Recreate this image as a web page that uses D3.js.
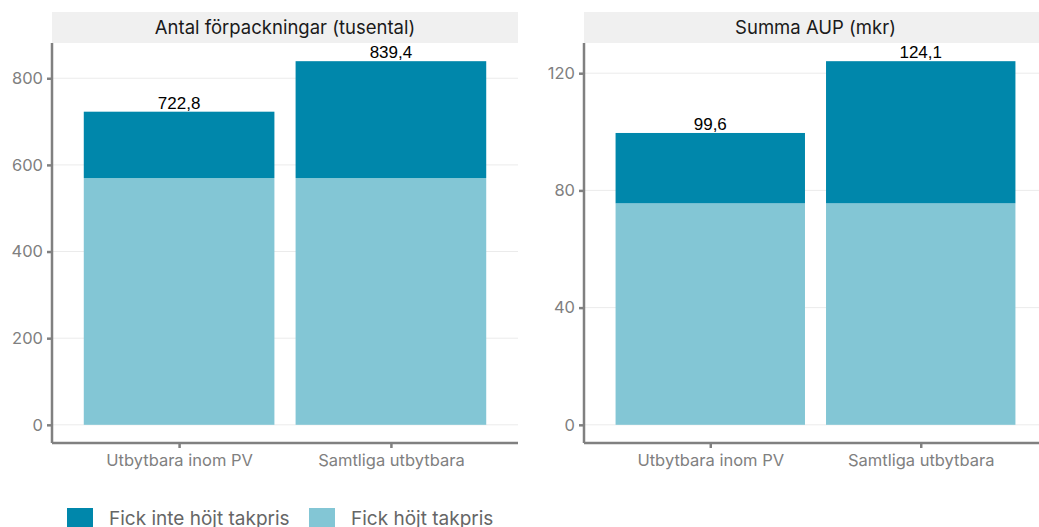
<!DOCTYPE html>
<html>
<head>
<meta charset="utf-8">
<script src="https://cdnjs.cloudflare.com/ajax/libs/d3/7.8.5/d3.min.js"></script>
<style>
  body { margin: 0; background: #fff; }
  svg { display: block; }
</style>
</head>
<body>
<script>
// data
var categories = ["Utbytbara inom PV", "Samtliga utbytbara"];
var panelTitles = ["Antal förpackningar (tusental)", "Summa AUP (mkr)"];
var raisedPacks = [569.7, 569.7];       // Fick höjt takpris
var totalPacks = [722.8, 839.4];        // stack total (top of Fick inte höjt takpris)
var raisedAup = [75.6, 75.6];
var totalAup = [99.6, 124.1];
var ticksPacks = [0, 200, 400, 600, 800];
var ticksAup = [0, 40, 80, 120];
var seriesNames = ["Fick inte höjt takpris", "Fick höjt takpris"];
var seriesColors = ["#0087ab", "#83c6d5"];

var W = 1039, H = 527;
var svg = d3.select("body").append("svg").attr("width", W).attr("height", H);

var panels = [
  {title: panelTitles[0], low: raisedPacks, total: totalPacks, ticks: ticksPacks, x0: 52, x1: 518},
  {title: panelTitles[1], low: raisedAup, total: totalAup, ticks: ticksAup, x0: 584, x1: 1047}
];
var plotTop = 43, plotBottom = 443;
var uiFont = "Inter, 'Noto Sans', sans-serif";

panels.forEach(function(p) {
  var maxV = d3.max(p.total);
  var y = d3.scaleLinear().domain([-0.05 * maxV, maxV * 1.05]).range([plotBottom, plotTop]);
  var x = d3.scaleLinear().domain([0.4, 2.6]).range([p.x0, p.x1]);
  var bw = x(1.45) - x(0.55);
  var g = svg.append("g");

  // strip
  g.append("rect").attr("x", p.x0).attr("y", 12).attr("width", p.x1 - p.x0).attr("height", plotTop - 12).attr("fill", "#f0f0f0");
  g.append("text").attr("x", (p.x0 + p.x1) / 2).attr("y", 34).attr("text-anchor", "middle")
    .style("font-family", uiFont).style("font-size", "18.5px").attr("fill", "#1a1a1a")
    .text(p.title);

  // grid
  g.selectAll(".grid").data(p.ticks).enter().append("line")
    .attr("x1", p.x0).attr("x2", p.x1).attr("y1", function(d) { return y(d); }).attr("y2", function(d) { return y(d); })
    .attr("stroke", "#ebebeb").attr("stroke-width", 1);

  // bars
  categories.forEach(function(c, i) {
    var cx = x(i + 1);
    g.append("rect").attr("x", cx - bw / 2).attr("width", bw)
      .attr("y", y(p.low[i])).attr("height", y(0) - y(p.low[i]))
      .attr("fill", seriesColors[1]);
    g.append("rect").attr("x", cx - bw / 2).attr("width", bw)
      .attr("y", y(p.total[i])).attr("height", y(p.low[i]) - y(p.total[i]))
      .attr("fill", seriesColors[0]);
    g.append("text").attr("x", cx).attr("y", y(p.total[i]) - 3).attr("text-anchor", "middle")
      .style("font-family", "'Liberation Sans', Arial, sans-serif").style("font-size", "17px").attr("fill", "#000")
      .text(d3.format(".1f")(p.total[i]).replace(".", ","));
  });

  // y axis
  var yAxis = g.append("g").attr("transform", "translate(" + p.x0 + ",0)")
    .call(d3.axisLeft(y).tickValues(p.ticks).tickSize(5).tickPadding(4));
  yAxis.select(".domain").attr("d", "M0," + plotTop + "V" + plotBottom);

  // x axis
  var xAxis = g.append("g").attr("transform", "translate(0," + plotBottom + ")")
    .call(d3.axisBottom(x).tickValues([1, 2]).tickSize(5).tickPadding(6)
      .tickFormat(function(d) { return categories[d - 1]; }));
  xAxis.select(".domain").attr("d", "M" + p.x0 + ",0H" + p.x1);

  [yAxis, xAxis].forEach(function(a) {
    a.select(".domain").attr("stroke", "#808080").attr("stroke-width", 2.5);
    a.selectAll(".tick line").attr("stroke", "#808080").attr("stroke-width", 2.5);
    a.selectAll(".tick text").attr("fill", "#808080")
      .style("font-family", uiFont).style("font-size", "16.5px");
  });
});

// legend
var legendX = [67, 309];
seriesNames.forEach(function(s, i) {
  svg.append("rect").attr("x", legendX[i]).attr("y", 508).attr("width", 26).attr("height", 26).attr("fill", seriesColors[i]);
  svg.append("text").attr("x", legendX[i] + 42).attr("y", 525)
    .style("font-family", uiFont).style("font-size", "19px").attr("fill", "#666")
    .text(s);
});
</script>
</body>
</html>
